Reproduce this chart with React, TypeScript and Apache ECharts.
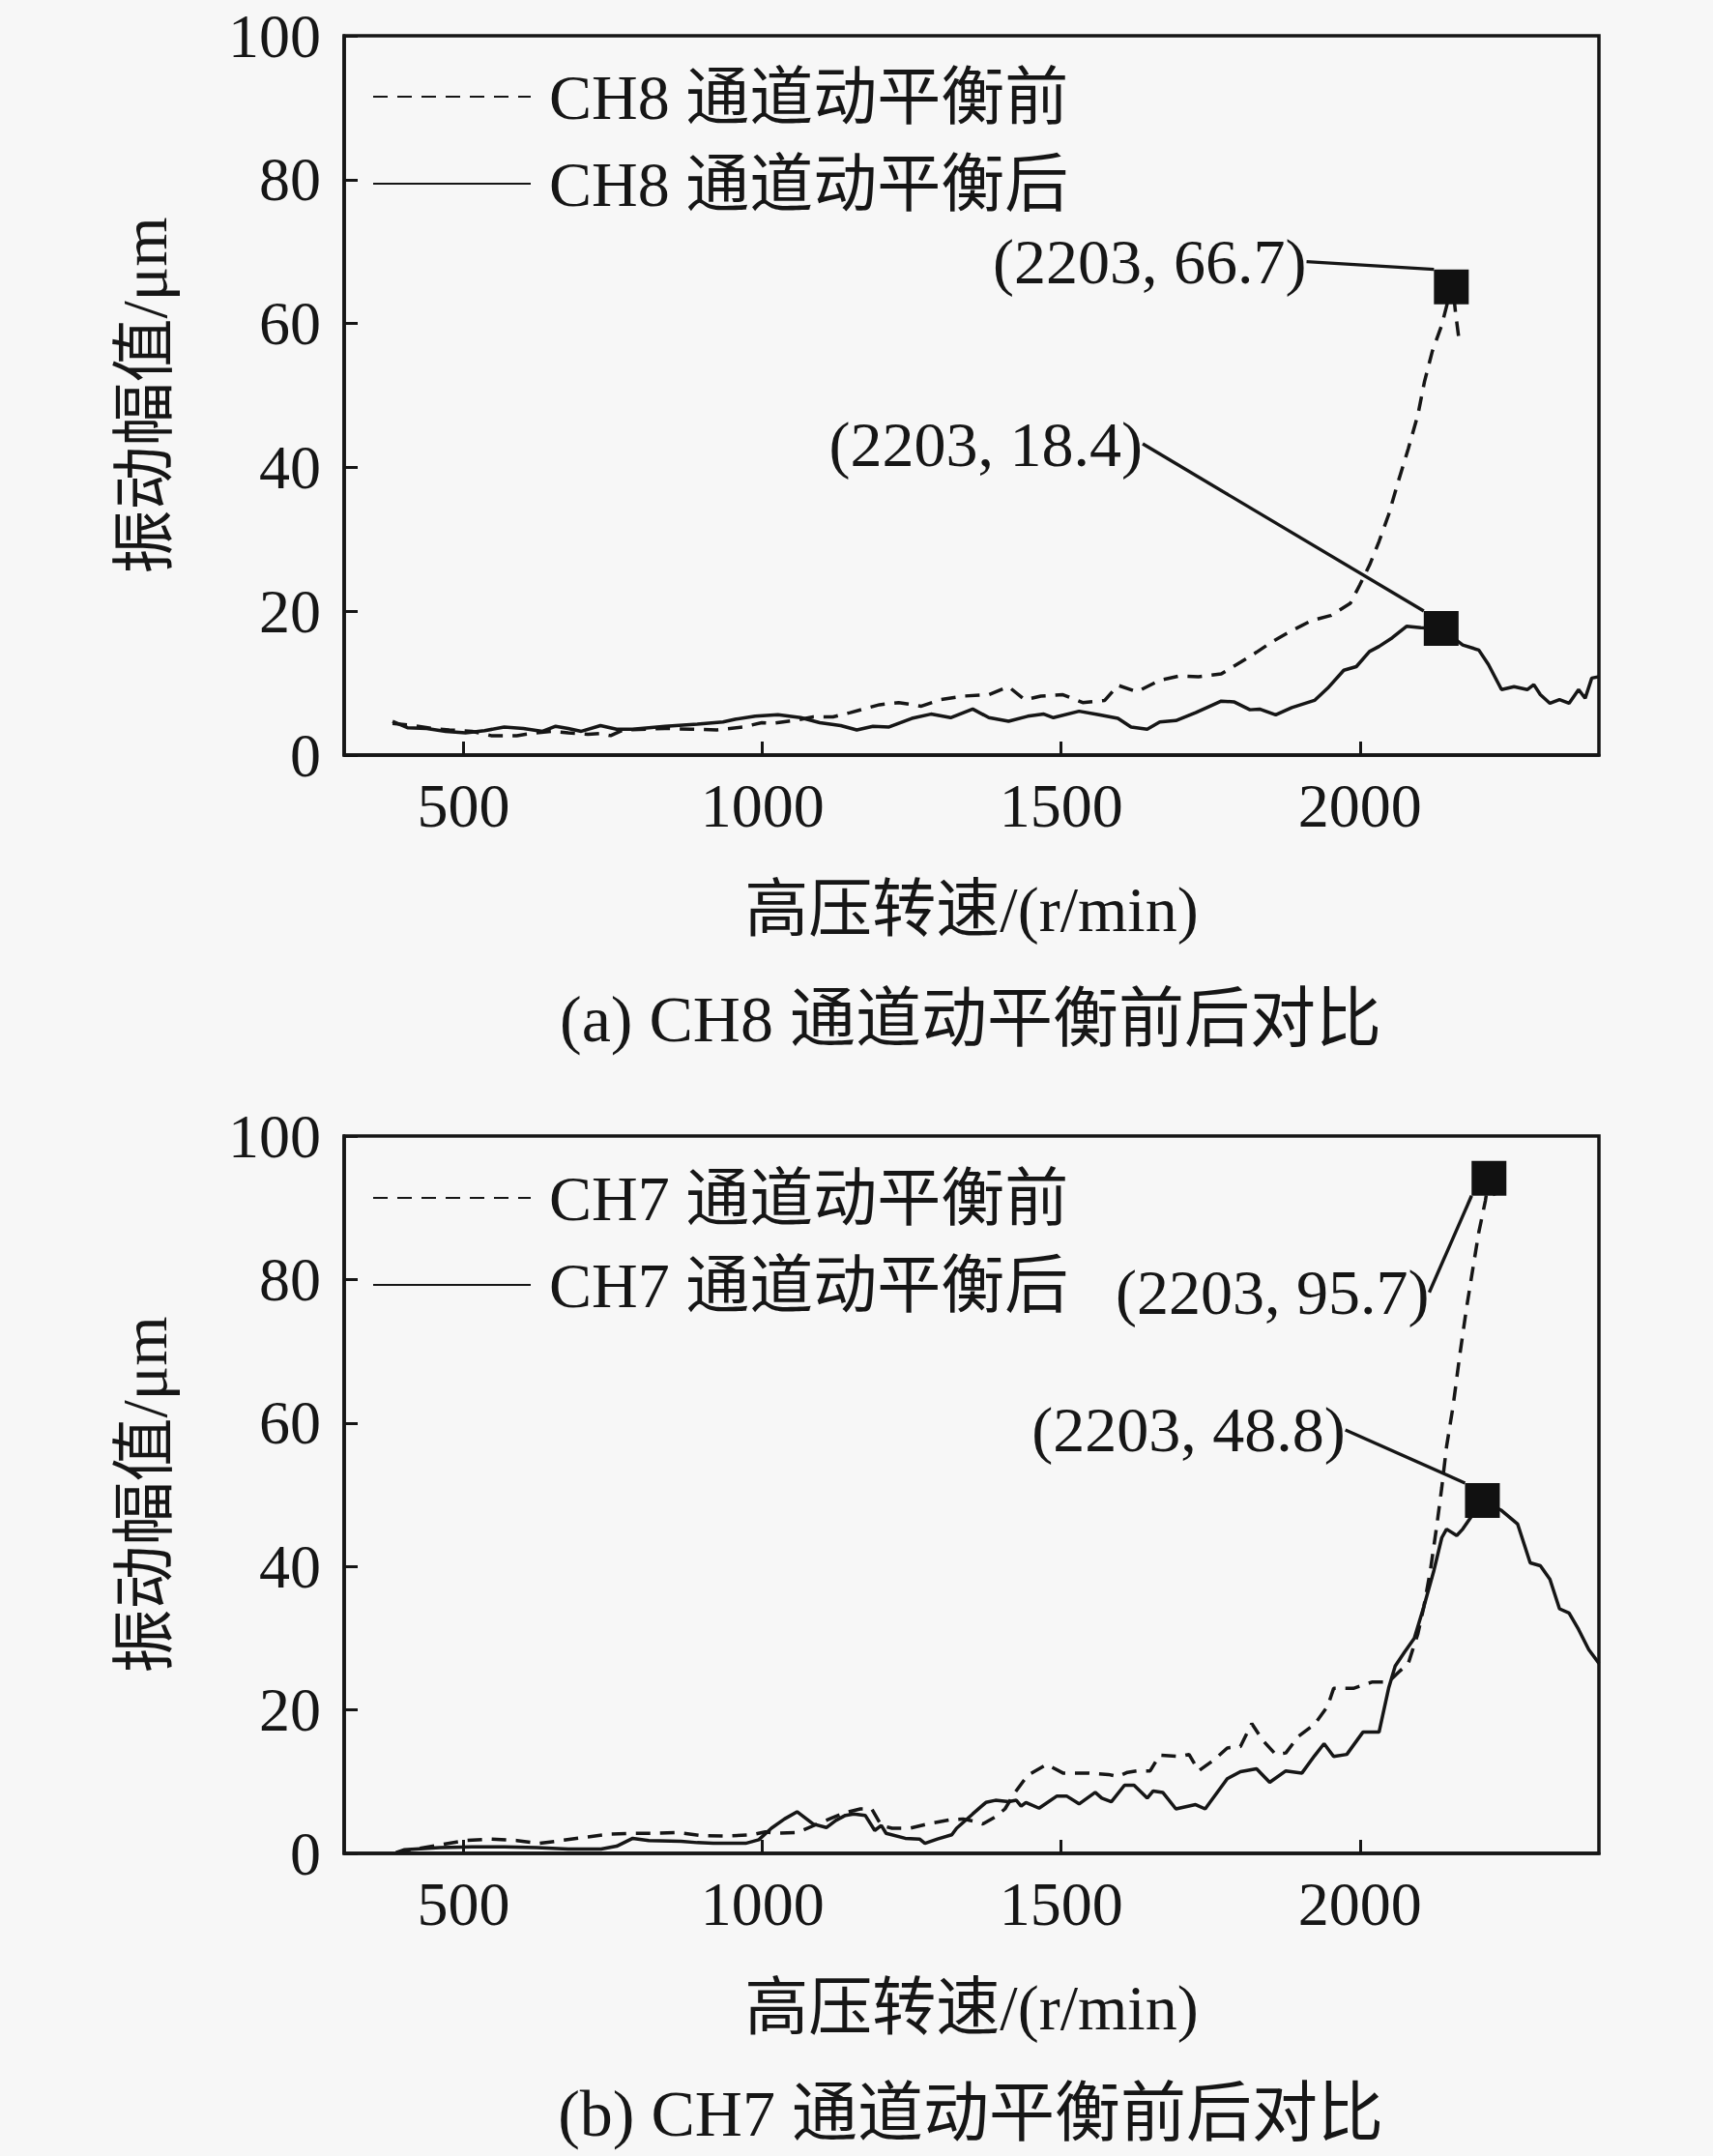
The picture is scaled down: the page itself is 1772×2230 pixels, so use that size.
import { useEffect, useRef } from "react";
import * as echarts from "echarts";

// tick labels
const xTickLabels = [500, 1000, 1500, 2000];
const yTickLabels = [0, 20, 40, 60, 80, 100];

// (a) CH8, speed r/min vs amplitude um
const ch8Before: number[][] = [
  [381, 4.4], [416, 4.1], [449, 3.7], [476, 3.5], [514, 3.3], [546, 2.7], [589, 2.7], [621, 3.1],
  [648, 3.3], [675, 3.1], [708, 2.9], [730, 3.0], [746, 2.7], [767, 3.5], [805, 3.6], [837, 3.7],
  [880, 3.6], [924, 3.5], [967, 3.9], [999, 4.5], [1015, 4.4], [1053, 4.8], [1085, 5.3], [1118, 5.3],
  [1147, 5.9], [1196, 7.0], [1228, 7.3], [1266, 6.8], [1298, 7.7], [1336, 8.2], [1379, 8.4], [1412, 9.5],
  [1439, 7.7], [1466, 8.2], [1503, 8.4], [1536, 7.3], [1573, 7.6], [1595, 9.7], [1627, 8.8], [1665, 10.4],
  [1698, 11.0], [1730, 10.9], [1768, 11.3], [1800, 12.9], [1827, 14.3], [1854, 15.8], [1886, 17.3],
  [1919, 18.7], [1951, 19.4], [1984, 21.1], [2000, 23.7], [2016, 26.4], [2032, 29.7], [2048, 33.4],
  [2064, 38.0], [2081, 42.6], [2097, 47.3], [2108, 51.9], [2121, 56.1], [2137, 59.8], [2150, 64.0],
  [2155, 65.5], [2160, 61.5], [2167, 57.0],
];
const ch8After: number[][] = [
  [381, 4.7], [406, 3.8], [438, 3.7], [470, 3.3], [503, 3.1], [535, 3.4], [568, 3.9], [600, 3.7],
  [632, 3.3], [654, 4.0], [675, 3.7], [697, 3.3], [729, 4.1], [756, 3.6], [783, 3.6], [837, 4.0],
  [891, 4.3], [934, 4.6], [956, 5.0], [988, 5.4], [1026, 5.6], [1064, 5.2], [1096, 4.5], [1131, 4.1],
  [1158, 3.5], [1185, 4.0], [1212, 3.9], [1250, 5.1], [1282, 5.7], [1315, 5.2], [1352, 6.4], [1379, 5.2],
  [1412, 4.7], [1444, 5.4], [1471, 5.7], [1487, 5.2], [1530, 6.1], [1563, 5.6], [1595, 5.1], [1617, 3.9],
  [1644, 3.6], [1665, 4.6], [1692, 4.8], [1725, 5.9], [1768, 7.5], [1789, 7.4], [1816, 6.3], [1832, 6.4],
  [1859, 5.6], [1886, 6.6], [1924, 7.6], [1946, 9.3], [1973, 11.8], [1994, 12.3], [2016, 14.4],
  [2032, 15.1], [2054, 16.3], [2078, 17.9], [2102, 17.7], [2136, 17.6], [2172, 15.3], [2199, 14.6],
  [2215, 12.6], [2237, 9.1], [2258, 9.5], [2280, 9.1], [2291, 9.8], [2302, 8.4], [2318, 7.2],
  [2334, 7.7], [2350, 7.2], [2366, 9.1], [2377, 7.9], [2388, 10.7], [2400, 10.9],
];

// (b) CH7
const ch7Before: number[][] = [
  [387, 0.1], [460, 1.2], [503, 1.8], [546, 2.0], [589, 1.8], [627, 1.4], [664, 1.8], [708, 2.3],
  [746, 2.7], [783, 2.8], [821, 2.8], [859, 2.9], [896, 2.5], [940, 2.4], [983, 2.6], [1005, 3.0],
  [1021, 2.8], [1058, 2.9], [1118, 5.0], [1139, 5.7], [1164, 6.2], [1183, 6.2], [1199, 3.9], [1217, 3.5],
  [1247, 3.5], [1282, 4.2], [1315, 4.7], [1336, 4.8], [1358, 4.4], [1369, 4.1], [1390, 5.1], [1406, 6.2],
  [1422, 8.4], [1444, 10.9], [1476, 12.4], [1503, 11.2], [1525, 11.2], [1547, 11.2], [1579, 11.0],
  [1595, 10.7], [1611, 11.3], [1627, 11.5], [1649, 11.5], [1665, 13.7], [1698, 13.5], [1714, 13.8],
  [1730, 11.5], [1757, 13.1], [1778, 14.7], [1800, 14.9], [1819, 18.1], [1838, 15.7], [1859, 13.8],
  [1876, 14.0], [1897, 16.3], [1924, 18.0], [1946, 20.5], [1956, 23.0], [1989, 23.0], [2021, 23.9],
  [2048, 23.9], [2064, 25.2], [2081, 26.5], [2097, 30.6], [2107, 34.4], [2118, 39.5], [2129, 45.9],
  [2137, 51.0], [2145, 56.7], [2156, 62.4], [2167, 69.4], [2178, 75.8], [2189, 81.5], [2199, 86.6],
  [2210, 91.0], [2216, 94.1], [2226, 91.7],
];
const ch7After: number[][] = [
  [387, 0.1], [400, 0.5], [460, 0.8], [514, 0.9], [568, 0.9], [622, 0.8], [675, 0.6], [730, 0.6],
  [756, 1.0], [783, 2.1], [810, 1.8], [864, 1.7], [891, 1.5], [918, 1.4], [972, 1.4], [994, 1.9],
  [1015, 3.5], [1037, 4.8], [1058, 5.8], [1085, 4.1], [1107, 3.6], [1123, 4.6], [1139, 5.3], [1153, 5.5],
  [1172, 5.3], [1188, 3.2], [1199, 3.9], [1207, 2.8], [1239, 2.1], [1263, 2.0], [1272, 1.4], [1293, 2.0],
  [1317, 2.6], [1325, 3.5], [1352, 5.5], [1374, 7.1], [1390, 7.4], [1412, 7.2], [1425, 7.4], [1433, 6.6],
  [1441, 7.1], [1463, 6.3], [1493, 8.0], [1509, 8.0], [1530, 6.9], [1557, 8.5], [1568, 7.7], [1584, 7.2],
  [1606, 9.5], [1622, 9.5], [1644, 7.7], [1654, 8.7], [1670, 8.5], [1692, 6.2], [1725, 6.8], [1741, 6.2],
  [1778, 10.4], [1800, 11.4], [1827, 11.8], [1849, 9.9], [1876, 11.5], [1903, 11.2], [1924, 13.6],
  [1940, 15.3], [1956, 13.5], [1978, 13.8], [2005, 16.9], [2032, 16.9], [2048, 23.0], [2059, 26.1],
  [2075, 28.1], [2091, 30.0], [2107, 34.4], [2124, 39.5], [2137, 44.0], [2145, 45.2], [2162, 44.3],
  [2172, 45.2], [2205, 49.2], [2237, 47.8], [2264, 45.9], [2285, 40.5], [2302, 40.1], [2318, 38.2],
  [2334, 34.1], [2350, 33.5], [2366, 31.2], [2383, 28.4], [2400, 26.5],
];

// annotated peaks: square drawn where it sits in the figure, text as printed
const noteSpeeds = [2203, 2203];
const ch8Markers: number[][] = [[2153, 65.1], [2136, 17.6]];
const ch8NoteValues = [66.7, 18.4];
const ch7Markers: number[][] = [[2216, 94.1], [2205, 49.2]];
const ch7NoteValues = [95.7, 48.8];

const ch8Names = ["CH8 通道动平衡前", "CH8 通道动平衡后"];
const ch7Names = ["CH7 通道动平衡前", "CH7 通道动平衡后"];
const captions = ["(a) CH8 通道动平衡前后对比", "(b) CH7 通道动平衡前后对比"];
const xName = "高压转速/(r/min)";
const yName = "振动幅值/μm";

const FONT = "'Liberation Serif', 'Noto Sans CJK SC', serif";
const INK = "#161616";
const FS = 66;

export default function App() {
  const ref = useRef<HTMLDivElement>(null);

  useEffect(() => {
    document.body.style.margin = "0";
    if (!ref.current) return;
    const chart = echarts.init(ref.current, null, { renderer: "svg" });

    const grids = [
      { left: 356, top: 37, width: 1298, height: 744 },
      { left: 356, top: 1175, width: 1298, height: 742 },
    ];

    const xAxis = grids.map((_, i) => ({
      type: "value",
      gridIndex: i,
      min: 300,
      max: 2400,
      name: xName,
      nameLocation: "middle",
      nameGap: 126,
      nameTextStyle: { fontSize: FS, fontFamily: FONT, color: INK },
      axisLine: { show: true, lineStyle: { color: INK, width: 3.5 } },
      axisTick: { show: true, inside: true, length: 14, lineStyle: { color: INK, width: 3 } },
      axisLabel: {
        fontSize: 64,
        fontFamily: FONT,
        color: INK,
        margin: 20,
        showMinLabel: false,
        showMaxLabel: false,
        formatter: (v: number) => (xTickLabels.includes(v) ? String(v) : ""),
      },
      splitLine: { show: false },
    }));

    const yAxis = grids.map((_, i) => ({
      type: "value",
      gridIndex: i,
      min: yTickLabels[0],
      max: yTickLabels[yTickLabels.length - 1],
      interval: 20,
      name: yName,
      nameLocation: "middle",
      nameGap: 174,
      nameTextStyle: { fontSize: FS, fontFamily: FONT, color: INK },
      axisLine: { show: true, lineStyle: { color: INK, width: 3.5 } },
      axisTick: { show: true, inside: true, length: 14, lineStyle: { color: INK, width: 3 } },
      axisLabel: { fontSize: 64, fontFamily: FONT, color: INK, margin: 24 },
      splitLine: { show: false },
    }));

    const lineSeries = (name: string, data: number[][], idx: number, dashed: boolean) => ({
      name,
      type: "line",
      xAxisIndex: idx,
      yAxisIndex: idx,
      data,
      symbol: "none",
      z: 3,
      lineStyle: { color: INK, width: 3.5, type: dashed ? [15, 10] : "solid" },
      itemStyle: { color: INK },
    });

    // label offsets (px) from each square to its text
    const offsets = [
      [[-312, -26], [-471, -191]],
      [[-224, 118], [-304, -73]],
    ];

    const noteSeries = (markers: number[][], values: number[], idx: number) => ({
      type: "scatter",
      xAxisIndex: idx,
      yAxisIndex: idx,
      data: markers,
      symbol: "rect",
      symbolSize: 36,
      z: 5,
      silent: true,
      itemStyle: { color: "#111", opacity: 1 },
      label: {
        show: true,
        position: "inside",
        fontSize: FS,
        fontFamily: FONT,
        color: INK,
        opacity: 1,
        formatter: (p: any) => `(${noteSpeeds[p.dataIndex]}, ${values[p.dataIndex]})`,
      },
      labelLayout: (p: any) => ({ dx: offsets[idx][p.dataIndex][0], dy: offsets[idx][p.dataIndex][1] }),
      labelLine: { show: true, lineStyle: { color: INK, width: 3.4, opacity: 1 } },
    });

    const legend = (names: string[], top: number) => ({
      data: names,
      orient: "vertical",
      left: 380,
      top,
      itemWidth: 163,
      itemHeight: 20,
      itemGap: 24,
      selectedMode: false,
      itemStyle: { color: "transparent", borderWidth: 0 },
      textStyle: { fontSize: FS, fontFamily: FONT, color: INK, lineHeight: 66, padding: [0, 0, 0, 14] },
    });

    chart.setOption({
      animation: false,
      backgroundColor: "#f7f7f7",
      grid: grids.map((g) => ({ ...g, show: true, borderColor: INK, borderWidth: 3.5, backgroundColor: "transparent" })),
      xAxis,
      yAxis,
      legend: [legend(ch8Names, 62), legend(ch7Names, 1201)],
      series: [
        lineSeries(ch8Names[0], ch8Before, 0, true),
        lineSeries(ch8Names[1], ch8After, 0, false),
        lineSeries(ch7Names[0], ch7Before, 1, true),
        lineSeries(ch7Names[1], ch7After, 1, false),
        noteSeries(ch8Markers, ch8NoteValues, 0),
        noteSeries(ch7Markers, ch7NoteValues, 1),
      ],
      graphic: captions.map((text, i) => ({
        type: "text",
        x: 1004,
        y: i === 0 ? 1054 : 2186,
        style: {
          text,
          fill: INK,
          fontSize: 68,
          fontFamily: FONT,
          align: "center",
          verticalAlign: "middle",
        },
      })),
    });

    return () => chart.dispose();
  }, []);

  return <div ref={ref} style={{ width: 1772, height: 2230 }} />;
}
